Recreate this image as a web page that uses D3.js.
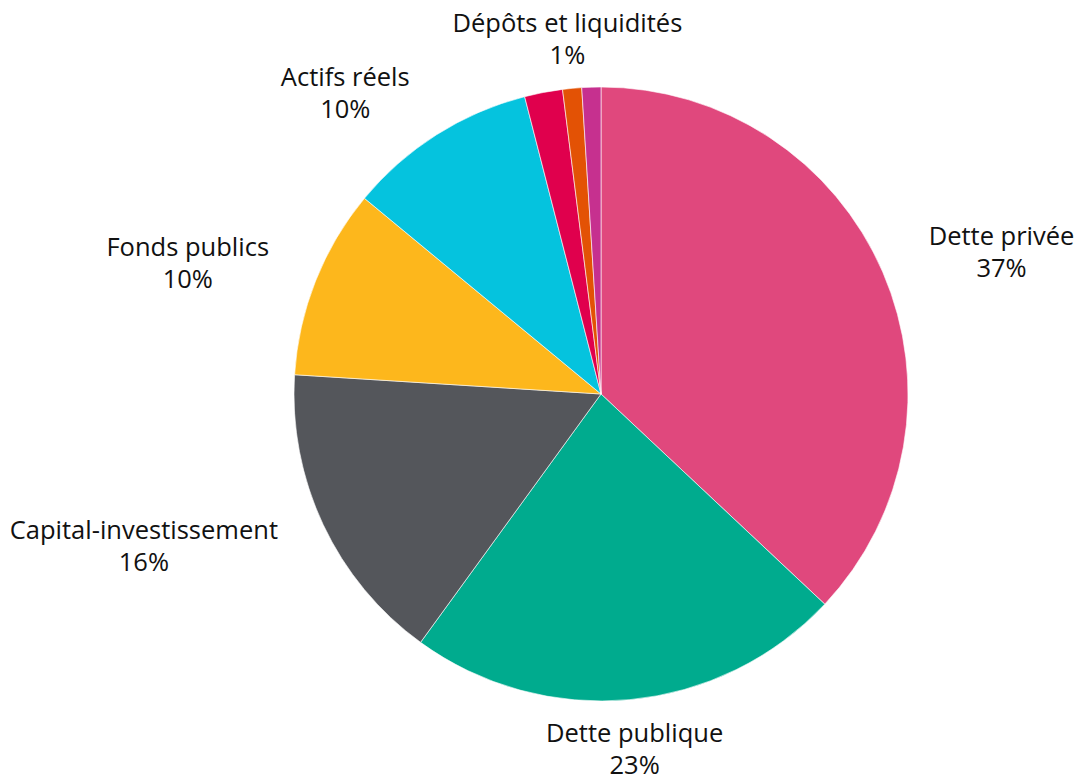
<!DOCTYPE html>
<html>
<head>
<meta charset="utf-8">
<script src="https://cdn.jsdelivr.net/npm/d3@7"></script>
<style>
  body { margin: 0; background: #fff; }
  svg { display: block; }
</style>
</head>
<body>
<svg id="chart" width="1078" height="778"></svg>
<script>
// data
const categories = ["Dette privée", "Dette publique", "Capital-investissement", "Fonds publics", "Actifs réels", "", "Dépôts et liquidités", ""];
const shares = [37, 23, 16, 10, 10, 2, 1, 1];
const shareLabels = ["37%", "23%", "16%", "10%", "10%", "", "1%", ""];
const colors = ["#E0487D", "#00AB8E", "#54565B", "#FDB71C", "#05C3DE", "#E0004D", "#E35205", "#C6308F"];

const W = 1078, H = 778;
const cx = 601, cy = 394;
const radius = 307;
const labelRadius = 357;

const svg = d3.select("#chart");
const g = svg.append("g").attr("transform", `translate(${cx},${cy})`);

const pie = d3.pie().sort(null).value(d => d.value);
const arcs = pie(shares.map((v, i) => ({ value: v, name: categories[i], label: shareLabels[i], color: colors[i] })));

const arc = d3.arc().innerRadius(0).outerRadius(radius);

g.append("g")
    .selectAll("path")
    .data(arcs)
    .join("path")
    .attr("d", arc)
    .attr("fill", d => d.data.color)
    .attr("stroke", "#fff")
    .attr("stroke-width", 0.6);

// labels sit on a circle outside the pie; the block is anchored by side,
// lines inside the block are centred
const labelArc = d3.arc().innerRadius(labelRadius).outerRadius(labelRadius);

const labelG = g.append("g")
    .attr("font-family", "'Open Sans', sans-serif")
    .attr("font-size", 25.5)
    .attr("fill", "#111")
    .attr("text-anchor", "middle");

arcs.filter(d => d.data.name !== "").forEach(d => {
    const [x, y] = labelArc.centroid(d);
    const s = Math.sin((d.startAngle + d.endAngle) / 2);
    const block = labelG.append("g").attr("transform", `translate(${x},${y})`);
    const t1 = block.append("text").attr("y", -7).text(d.data.name);
    const t2 = block.append("text").attr("y", 25).text(d.data.label);
    const w = Math.max(t1.node().getComputedTextLength(), t2.node().getComputedTextLength());
    let dx = 0;
    if (Math.abs(s) >= 0.2) dx = s > 0 ? w / 2 : -w / 2;
    t1.attr("x", dx);
    t2.attr("x", dx);
});
</script>
</body>
</html>
